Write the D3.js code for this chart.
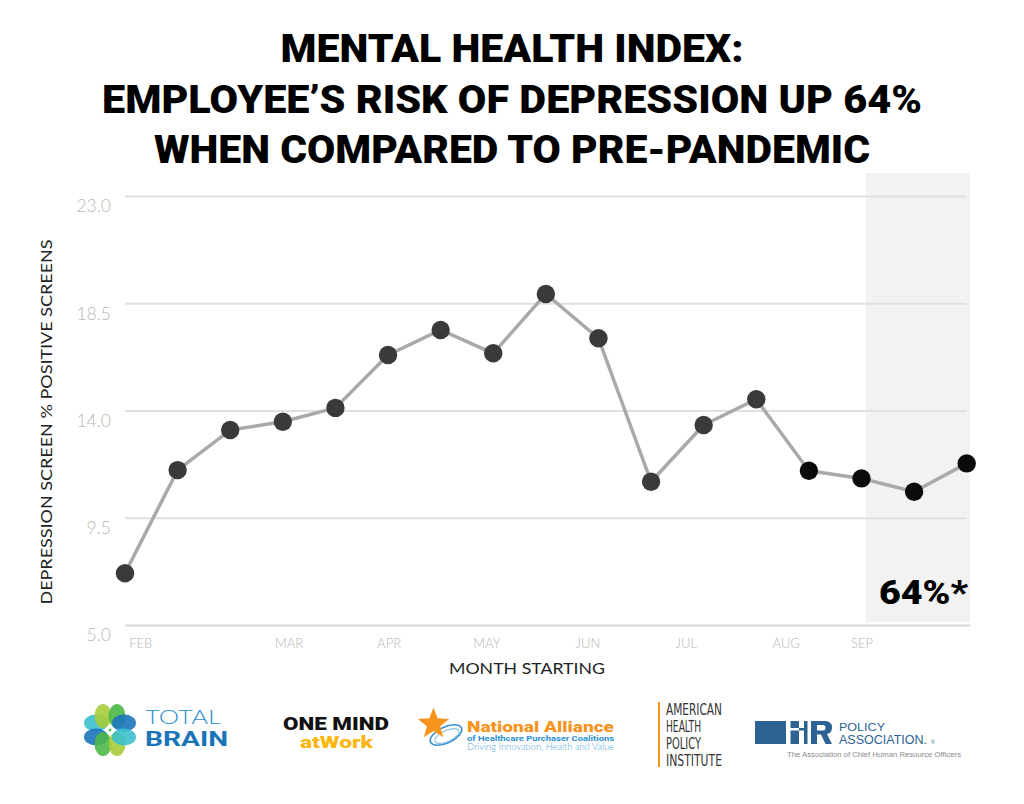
<!DOCTYPE html>
<html>
<head>
<meta charset="utf-8">
<script src="https://cdn.jsdelivr.net/npm/d3@7"></script>
<style>
  html, body { margin: 0; padding: 0; background: #fff; }
  svg { display: block; }
</style>
</head>
<body>
<svg id="chart" width="1024" height="804"></svg>
<script>
// ---------------- DATA ----------------
const titleLines = [
  "MENTAL HEALTH INDEX:",
  "EMPLOYEE\u2019S RISK OF DEPRESSION UP 64%",
  "WHEN COMPARED TO PRE-PANDEMIC"
];
const categories = ["P1","P2","P3","P4","P5","P6","P7","P8","P9","P10","P11","P12","P13","P14","P15","P16","P17"];
const values = [7.17, 11.50, 13.18, 13.53, 14.11, 16.33, 17.38, 16.40, 18.89, 17.03, 11.01, 13.39, 14.47, 11.47, 11.15, 10.59, 11.78];
const recentFlags = [0,0,0,0,0,0,0,0,0,0,0,0,0,1,1,1,1];
const yTicks = [5.0, 9.5, 14.0, 18.5, 23.0];
const monthLabels = ["FEB","MAR","APR","MAY","JUN","JUL","AUG","SEP"];
const monthIndex = [0.30, 3.12, 5.02, 6.88, 8.80, 10.67, 12.57, 14.01];
const highlightRange = [14.08, 16.06];
const highlightLabel = "64%*";
const yAxisTitle = "DEPRESSION SCREEN % POSITIVE SCREENS";
const xAxisTitle = "MONTH STARTING";

// ---------------- SETUP ----------------
const svg = d3.select("#chart");
const left = 125, right = 966.7;
const x = d3.scalePoint().domain(categories).range([left, right]);
const xi = d3.scaleLinear().domain([0, categories.length - 1]).range([left, right]);
const y = d3.scaleLinear().domain([5, 23]).range([625, 196]);

const lightFont = "'Lato', 'Open Sans', 'Noto Sans', sans-serif";
const heavyFont = "'Roboto', 'Lato', 'Liberation Sans', sans-serif";

// Title
const titleBase = [62, 113, 163];
const titleWidths = [463, 820, 716];
svg.append("g").selectAll("text").data(titleLines).join("text")
  .attr("x", 512).attr("y", (d, i) => titleBase[i])
  .attr("text-anchor", "middle")
  .attr("font-family", heavyFont).attr("font-weight", 900)
  .attr("font-size", 39).attr("fill", "#000")
  .attr("textLength", (d, i) => titleWidths[i])
  .attr("lengthAdjust", "spacingAndGlyphs")
  .text(d => d);

// Highlight band
svg.append("rect")
  .attr("x", xi(highlightRange[0])).attr("y", 173)
  .attr("width", xi(highlightRange[1]) - xi(highlightRange[0]))
  .attr("height", y(5) - 3 - 173)
  .attr("fill", "#f2f2f2");

// Grid lines + y tick labels
const yAxis = d3.axisLeft(y).tickValues(yTicks).tickFormat(d3.format(".1f")).tickSize(0).tickPadding(0);
const gy = svg.append("g").attr("transform", `translate(${left},0)`).call(yAxis);
gy.select(".domain").remove();
gy.selectAll(".tick text")
  .attr("x", -14).attr("dy", "0.9em")
  .attr("font-family", lightFont).attr("font-weight", 300)
  .attr("font-size", 17.5).attr("fill", "#b8b8b8");
gy.selectAll(".tick").append("line")
  .attr("x1", 0).attr("x2", d => d === 5 ? 970 - left : right - left)
  .attr("stroke", d => d === 5 ? "#d9d9d9" : "#e0e0e0")
  .attr("stroke-width", 2);

// Month labels
svg.append("g").selectAll("text").data(monthLabels).join("text")
  .attr("x", (d, i) => xi(monthIndex[i])).attr("y", 648)
  .attr("text-anchor", "middle")
  .attr("font-family", lightFont).attr("font-weight", 300)
  .attr("font-size", 13).attr("fill", "#b5b5b5")
  .text(d => d);

// Axis titles
svg.append("text")
  .attr("transform", "translate(52,422) rotate(-90)")
  .attr("text-anchor", "middle")
  .attr("font-family", lightFont).attr("font-weight", 400)
  .attr("font-size", 16).attr("fill", "#222")
  .attr("textLength", 365).attr("lengthAdjust", "spacingAndGlyphs")
  .text(yAxisTitle);
svg.append("text")
  .attr("x", 527).attr("y", 674)
  .attr("text-anchor", "middle")
  .attr("font-family", lightFont).attr("font-weight", 400)
  .attr("font-size", 16).attr("fill", "#222")
  .attr("textLength", 156).attr("lengthAdjust", "spacingAndGlyphs")
  .text(xAxisTitle);

// Line
const line = d3.line().x((d, i) => x(categories[i])).y(d => y(d));
svg.append("path").datum(values)
  .attr("d", line).attr("fill", "none")
  .attr("stroke", "#a9a9a9").attr("stroke-width", 3.5)
  .attr("stroke-linejoin", "round");

// Points
svg.append("g").selectAll("circle").data(values).join("circle")
  .attr("cx", (d, i) => x(categories[i])).attr("cy", d => y(d))
  .attr("r", 9.2)
  .attr("fill", (d, i) => recentFlags[i] ? "#0b0b0b" : "#3a3a3c");

// Highlight label
svg.append("text")
  .attr("x", 968).attr("y", 604)
  .attr("text-anchor", "end")
  .attr("font-family", heavyFont).attr("font-weight", 900)
  .attr("font-size", 33).attr("fill", "#000")
  .attr("textLength", 89).attr("lengthAdjust", "spacingAndGlyphs")
  .text(highlightLabel);

// ---------------- LOGOS ----------------
const logos = svg.append("g");

// Total Brain clover
const tb = logos.append("g").attr("transform", "translate(110,730)");
const petals = [
  [-14, -7, 12, 8.5, "#3cc0cc"], [-7, -14, 8.5, 12, "#a6cc3b"],
  [7, -14, 8.5, 12, "#4cb748"], [14, -7, 12, 8.5, "#1b75bb"],
  [-14, 7, 12, 8.5, "#1b75bb"], [-7, 14, 8.5, 12, "#4cb748"],
  [7, 14, 8.5, 12, "#a6cc3b"], [14, 7, 12, 8.5, "#3cc0cc"]
];
tb.selectAll("ellipse").data(petals).join("ellipse")
  .attr("cx", d => d[0]).attr("cy", d => d[1])
  .attr("rx", d => d[2]).attr("ry", d => d[3])
  .attr("fill", d => d[4]).attr("opacity", 0.9);
tb.append("rect").attr("x", -4).attr("y", -4).attr("width", 8).attr("height", 8)
  .attr("transform", "rotate(45)").attr("fill", "#fff");
tb.append("path").attr("d", "M1,-3 L-2,1 L0,1 L-1,3 L2,-1 L0,-1 Z").attr("fill", "#4cb748");
logos.append("text").attr("x", 145).attr("y", 724)
  .attr("font-family", lightFont).attr("font-weight", 300).attr("font-size", 20)
  .attr("fill", "#2a8fd0").attr("textLength", 76).attr("lengthAdjust", "spacingAndGlyphs").text("TOTAL");
logos.append("text").attr("x", 145).attr("y", 746)
  .attr("font-family", heavyFont).attr("font-weight", 700).attr("font-size", 21)
  .attr("fill", "#1a75b8").attr("textLength", 83).attr("lengthAdjust", "spacingAndGlyphs").text("BRAIN");

// One Mind at Work
logos.append("text").attr("x", 283).attr("y", 729.5)
  .attr("font-family", heavyFont).attr("font-weight", 900).attr("font-size", 17.5)
  .attr("fill", "#111").attr("textLength", 106).attr("lengthAdjust", "spacingAndGlyphs").text("ONE MIND");
logos.append("text").attr("x", 300).attr("y", 747.5)
  .attr("font-family", heavyFont).attr("font-weight", 900).attr("font-size", 17)
  .attr("fill", "#f9b612").attr("textLength", 73).attr("lengthAdjust", "spacingAndGlyphs").text("atWork");

// National Alliance
const na = logos.append("g");
na.append("ellipse").attr("cx", 446).attr("cy", 735).attr("rx", 17).attr("ry", 8)
  .attr("transform", "rotate(-25,446,735)").attr("fill", "none").attr("stroke", "#3a8fd0").attr("stroke-width", 1.6);
na.append("ellipse").attr("cx", 447).attr("cy", 736).attr("rx", 13).attr("ry", 5.5)
  .attr("transform", "rotate(-25,447,736)").attr("fill", "none").attr("stroke", "#8cc4ea").attr("stroke-width", 1.2);
const starPts = d3.range(10).map(i => {
  const r = i % 2 === 0 ? 16.5 : 7;
  const a = -Math.PI / 2 + i * Math.PI / 5;
  return [433.5 + r * Math.cos(a), 724 + r * Math.sin(a)];
});
na.append("polygon").attr("points", starPts.map(p => p.join(",")).join(" ")).attr("fill", "#f7941d");
na.append("text").attr("x", 467).attr("y", 731.5)
  .attr("font-family", heavyFont).attr("font-weight", 900).attr("font-size", 15.5)
  .attr("fill", "#f7941d").attr("textLength", 147).attr("lengthAdjust", "spacingAndGlyphs").text("National Alliance");
na.append("text").attr("x", 467).attr("y", 741)
  .attr("font-family", heavyFont).attr("font-weight", 700).attr("font-size", 7.5)
  .attr("fill", "#2a8fd0").attr("textLength", 147).attr("lengthAdjust", "spacingAndGlyphs").text("of Healthcare Purchaser Coalitions");
na.append("text").attr("x", 467).attr("y", 750)
  .attr("font-family", lightFont).attr("font-weight", 300).attr("font-size", 9)
  .attr("fill", "#5aa7dd").attr("textLength", 147).attr("lengthAdjust", "spacingAndGlyphs").text("Driving Innovation, Health and Value");

// American Health Policy Institute
logos.append("rect").attr("x", 658).attr("y", 702).attr("width", 2).attr("height", 65).attr("fill", "#f7941d");
const ahpi = ["AMERICAN", "HEALTH", "POLICY", "INSTITUTE"];
const ahpiW = [56, 35, 35, 56];
logos.append("g").selectAll("text").data(ahpi).join("text")
  .attr("x", 666).attr("y", (d, i) => 715 + i * 17)
  .attr("font-family", "'DejaVu Sans Condensed', 'Liberation Sans Narrow', sans-serif")
  .attr("font-size", 16).attr("fill", "#333")
  .attr("textLength", (d, i) => ahpiW[i]).attr("lengthAdjust", "spacingAndGlyphs")
  .text(d => d);

// HR Policy Association
const hr = logos.append("g").attr("fill", "#2d6393");
hr.append("rect").attr("x", 755).attr("y", 721).attr("width", 31).attr("height", 23);
hr.append("rect").attr("x", 790.5).attr("y", 721).attr("width", 8.5).attr("height", 7);
hr.append("rect").attr("x", 790.5).attr("y", 730.5).attr("width", 8.5).attr("height", 13.5);
hr.append("rect").attr("x", 799).attr("y", 728).attr("width", 5).attr("height", 2.5);
hr.append("rect").attr("x", 804).attr("y", 721).attr("width", 3.5).attr("height", 23);
hr.append("rect").attr("x", 811).attr("y", 721).attr("width", 6).attr("height", 23);
hr.append("path").attr("d", "M817,721 H825 Q832,721 832,727.5 Q832,733 827,734 L832,744 H825.5 L821,734.5 H817 V730.5 H823 Q825.5,730.5 825.5,727.5 Q825.5,725 823,725 H817 Z");
logos.append("text").attr("x", 839).attr("y", 730.5)
  .attr("font-family", "'Liberation Sans', Arial, sans-serif").attr("font-size", 11.5)
  .attr("fill", "#2d6393").attr("textLength", 46).attr("lengthAdjust", "spacingAndGlyphs").text("POLICY");
logos.append("text").attr("x", 839).attr("y", 744)
  .attr("font-family", "'Liberation Sans', Arial, sans-serif").attr("font-size", 13)
  .attr("fill", "#2d6393").attr("textLength", 88).attr("lengthAdjust", "spacingAndGlyphs").text("ASSOCIATION.");
logos.append("text").attr("x", 931).attr("y", 744)
  .attr("font-family", "'Liberation Sans', Arial, sans-serif").attr("font-size", 5)
  .attr("fill", "#2d6393").text("\u00AE");
logos.append("text").attr("x", 787).attr("y", 756.5)
  .attr("font-family", "'Liberation Sans', Arial, sans-serif").attr("font-size", 7.5)
  .attr("fill", "#8a8a8a").attr("textLength", 174).attr("lengthAdjust", "spacingAndGlyphs")
  .text("The Association of Chief Human Resource Officers");
</script>
</body>
</html>
